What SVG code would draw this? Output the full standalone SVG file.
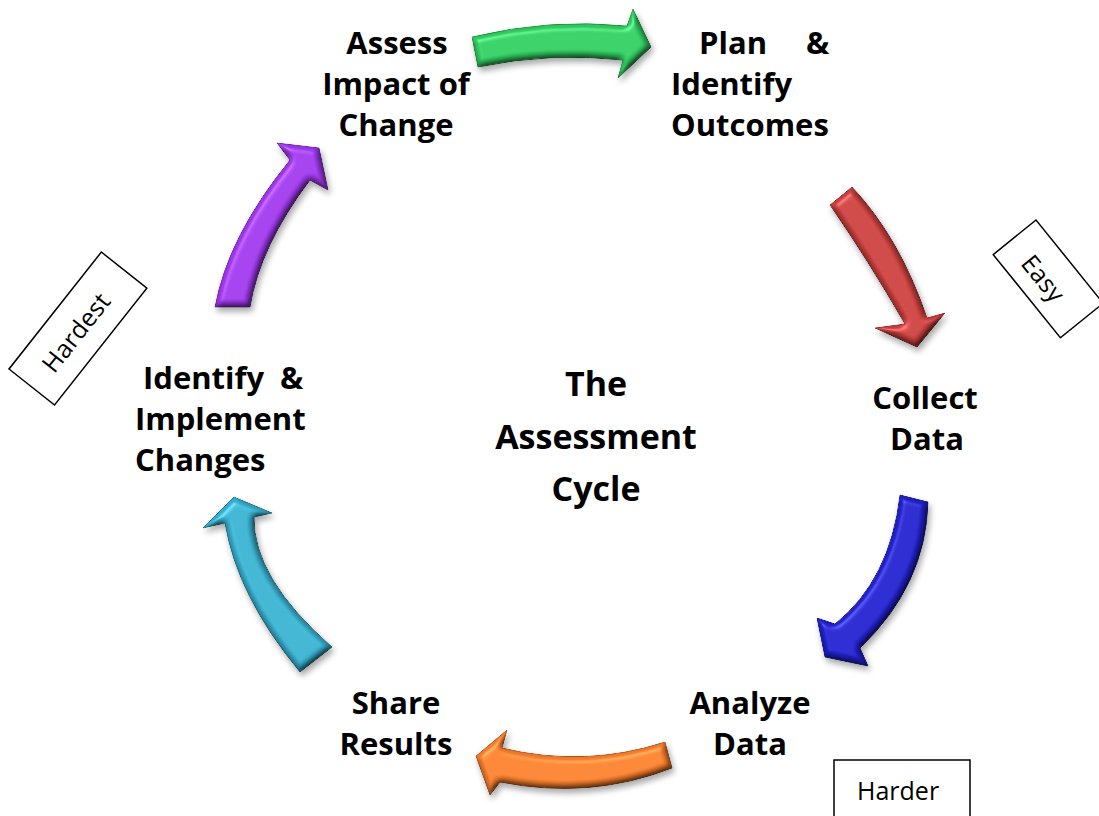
<svg xmlns="http://www.w3.org/2000/svg" width="1099" height="816" viewBox="0 0 1099 816">
  <defs>
    <!-- bevel shading + drop shadow for the curved block arrows -->
    <filter id="bevel" x="-20%" y="-20%" width="140%" height="150%" color-interpolation-filters="sRGB">
      <feGaussianBlur in="SourceAlpha" stdDeviation="3" result="blur"/>
      <feOffset in="blur" dx="2" dy="4" result="off"/>
      <feComponentTransfer in="off" result="shadow">
        <feFuncA type="linear" slope="0.35"/>
      </feComponentTransfer>
      <feDiffuseLighting in="blur" surfaceScale="4" diffuseConstant="1.1" lighting-color="#ffffff" result="diff">
        <feDistantLight azimuth="235" elevation="65"/>
      </feDiffuseLighting>
      <feComposite in="SourceGraphic" in2="diff" operator="arithmetic" k1="1" k2="0" k3="0" k4="0" result="shaded"/>
      <feComposite in="shaded" in2="SourceAlpha" operator="in" result="shadedIn"/>
      <feSpecularLighting in="blur" surfaceScale="5" specularConstant="0.8" specularExponent="28" lighting-color="#ffffff" result="spec">
        <feDistantLight azimuth="235" elevation="55"/>
      </feSpecularLighting>
      <feComposite in="spec" in2="SourceAlpha" operator="in" result="specIn"/>
      <feComposite in="shadedIn" in2="specIn" operator="arithmetic" k1="0" k2="1" k3="0.3" k4="0" result="lit"/>
      <feMerge>
        <feMergeNode in="shadow"/>
        <feMergeNode in="lit"/>
      </feMerge>
    </filter>
    <style>
      .label { font-family: "Open Sans", "DejaVu Sans", sans-serif; font-weight: 700; font-size: 31px; fill: #000; }
      .title { font-family: "Open Sans", "DejaVu Sans", sans-serif; font-weight: 700; font-size: 34px; fill: #000; text-anchor: middle; }
      .note { font-family: "Open Sans", "DejaVu Sans", sans-serif; font-weight: 400; font-size: 25px; fill: #000; }
      .note-box { fill: #fff; stroke: #000; stroke-width: 1.5; }
      .arrow { filter: url(#bevel); stroke-width: 1; stroke-linejoin: round; }
      .mid { text-anchor: middle; }
    </style>
  </defs>

  <rect width="1099" height="816" fill="#ffffff"/>

  <!-- curved arrows around the cycle -->
  <g id="connectors">
    <path id="arrow-green" class="arrow" fill="#2fc45c" stroke="#1b8f3f"
          d="M 472,37 Q 550,18 627,26 L 633,9 L 651,47 L 618,78 L 623,60 Q 550,52 478,67 Z"/>
    <path id="arrow-red" class="arrow" fill="#c23d3b" stroke="#8a2527"
          d="M 852,187 Q 900,238 927,318 L 945,313 L 917,347 L 875,328 L 905,324 Q 868,260 830,205 Z"/>
    <path id="arrow-blue" class="arrow" fill="#1f1fc4" stroke="#101088"
          d="M 928,502 Q 926,585 860,648 L 868,666 L 825,657 L 817,618 L 835,624 Q 890,580 900,495 Z"/>
    <path id="arrow-orange" class="arrow" fill="#ee7a2a" stroke="#b05218"
          d="M 665,742 Q 585,768 502,748 L 507,730 L 476,756 L 490,795 L 500,782 Q 590,800 672,768 Z"/>
    <path id="arrow-cyan" class="arrow" fill="#35a9c7" stroke="#207890"
          d="M 332,647 Q 253,578 254,517 L 272,513 L 234,497 L 203,528 L 225,523 Q 237,596 300,672 Z"/>
    <path id="arrow-purple" class="arrow" fill="#9836e2" stroke="#691ca8"
          d="M 250,307 Q 260,246 310,180 L 328,190 L 319,148 L 277,143 L 290,160 Q 228,236 215,307 Z"/>
  </g>

  <g id="node-assess">
    <text class="label mid" x="397" y="54">Assess</text>
    <text class="label mid" x="396" y="95">Impact of</text>
    <text class="label mid" x="396" y="136">Change</text>
  </g>

  <g id="node-plan">
    <text class="label" x="699" y="54">Plan</text>
    <text class="label" x="806" y="54">&amp;</text>
    <text class="label" x="671" y="95">Identify</text>
    <text class="label" x="671" y="136">Outcomes</text>
  </g>

  <g id="node-collect">
    <text class="label mid" x="925" y="409">Collect</text>
    <text class="label mid" x="927" y="450">Data</text>
  </g>

  <g id="node-analyze">
    <text class="label mid" x="750" y="714">Analyze</text>
    <text class="label mid" x="750" y="755">Data</text>
  </g>

  <g id="node-share">
    <text class="label mid" x="396" y="714">Share</text>
    <text class="label mid" x="396" y="755">Results</text>
  </g>

  <g id="node-implement">
    <text class="label" x="143" y="389">Identify</text>
    <text class="label" x="280" y="389">&amp;</text>
    <text class="label" x="135" y="430">Implement</text>
    <text class="label" x="135" y="471">Changes</text>
  </g>

  <g id="node-title">
    <text class="title" x="596" y="396">The</text>
    <text class="title" x="596" y="449">Assessment</text>
    <text class="title" x="596" y="501">Cycle</text>
  </g>

  <!-- difficulty notes -->
  <g id="note-easy" transform="translate(1036,220) rotate(51.1)">
    <rect class="note-box" x="0" y="0" width="107" height="55"/>
    <text class="note mid" x="50" y="40" font-size="26">Easy</text>
  </g>

  <g id="note-hardest" transform="translate(9,369) rotate(-51.7)">
    <rect class="note-box" x="0" y="0" width="149" height="58"/>
    <text class="note mid" x="70" y="39" font-size="26">Hardest</text>
  </g>

  <g id="note-harder">
    <rect class="note-box" x="834" y="760" width="136" height="70"/>
    <text class="note" x="857" y="800">Harder</text>
  </g>
</svg>
